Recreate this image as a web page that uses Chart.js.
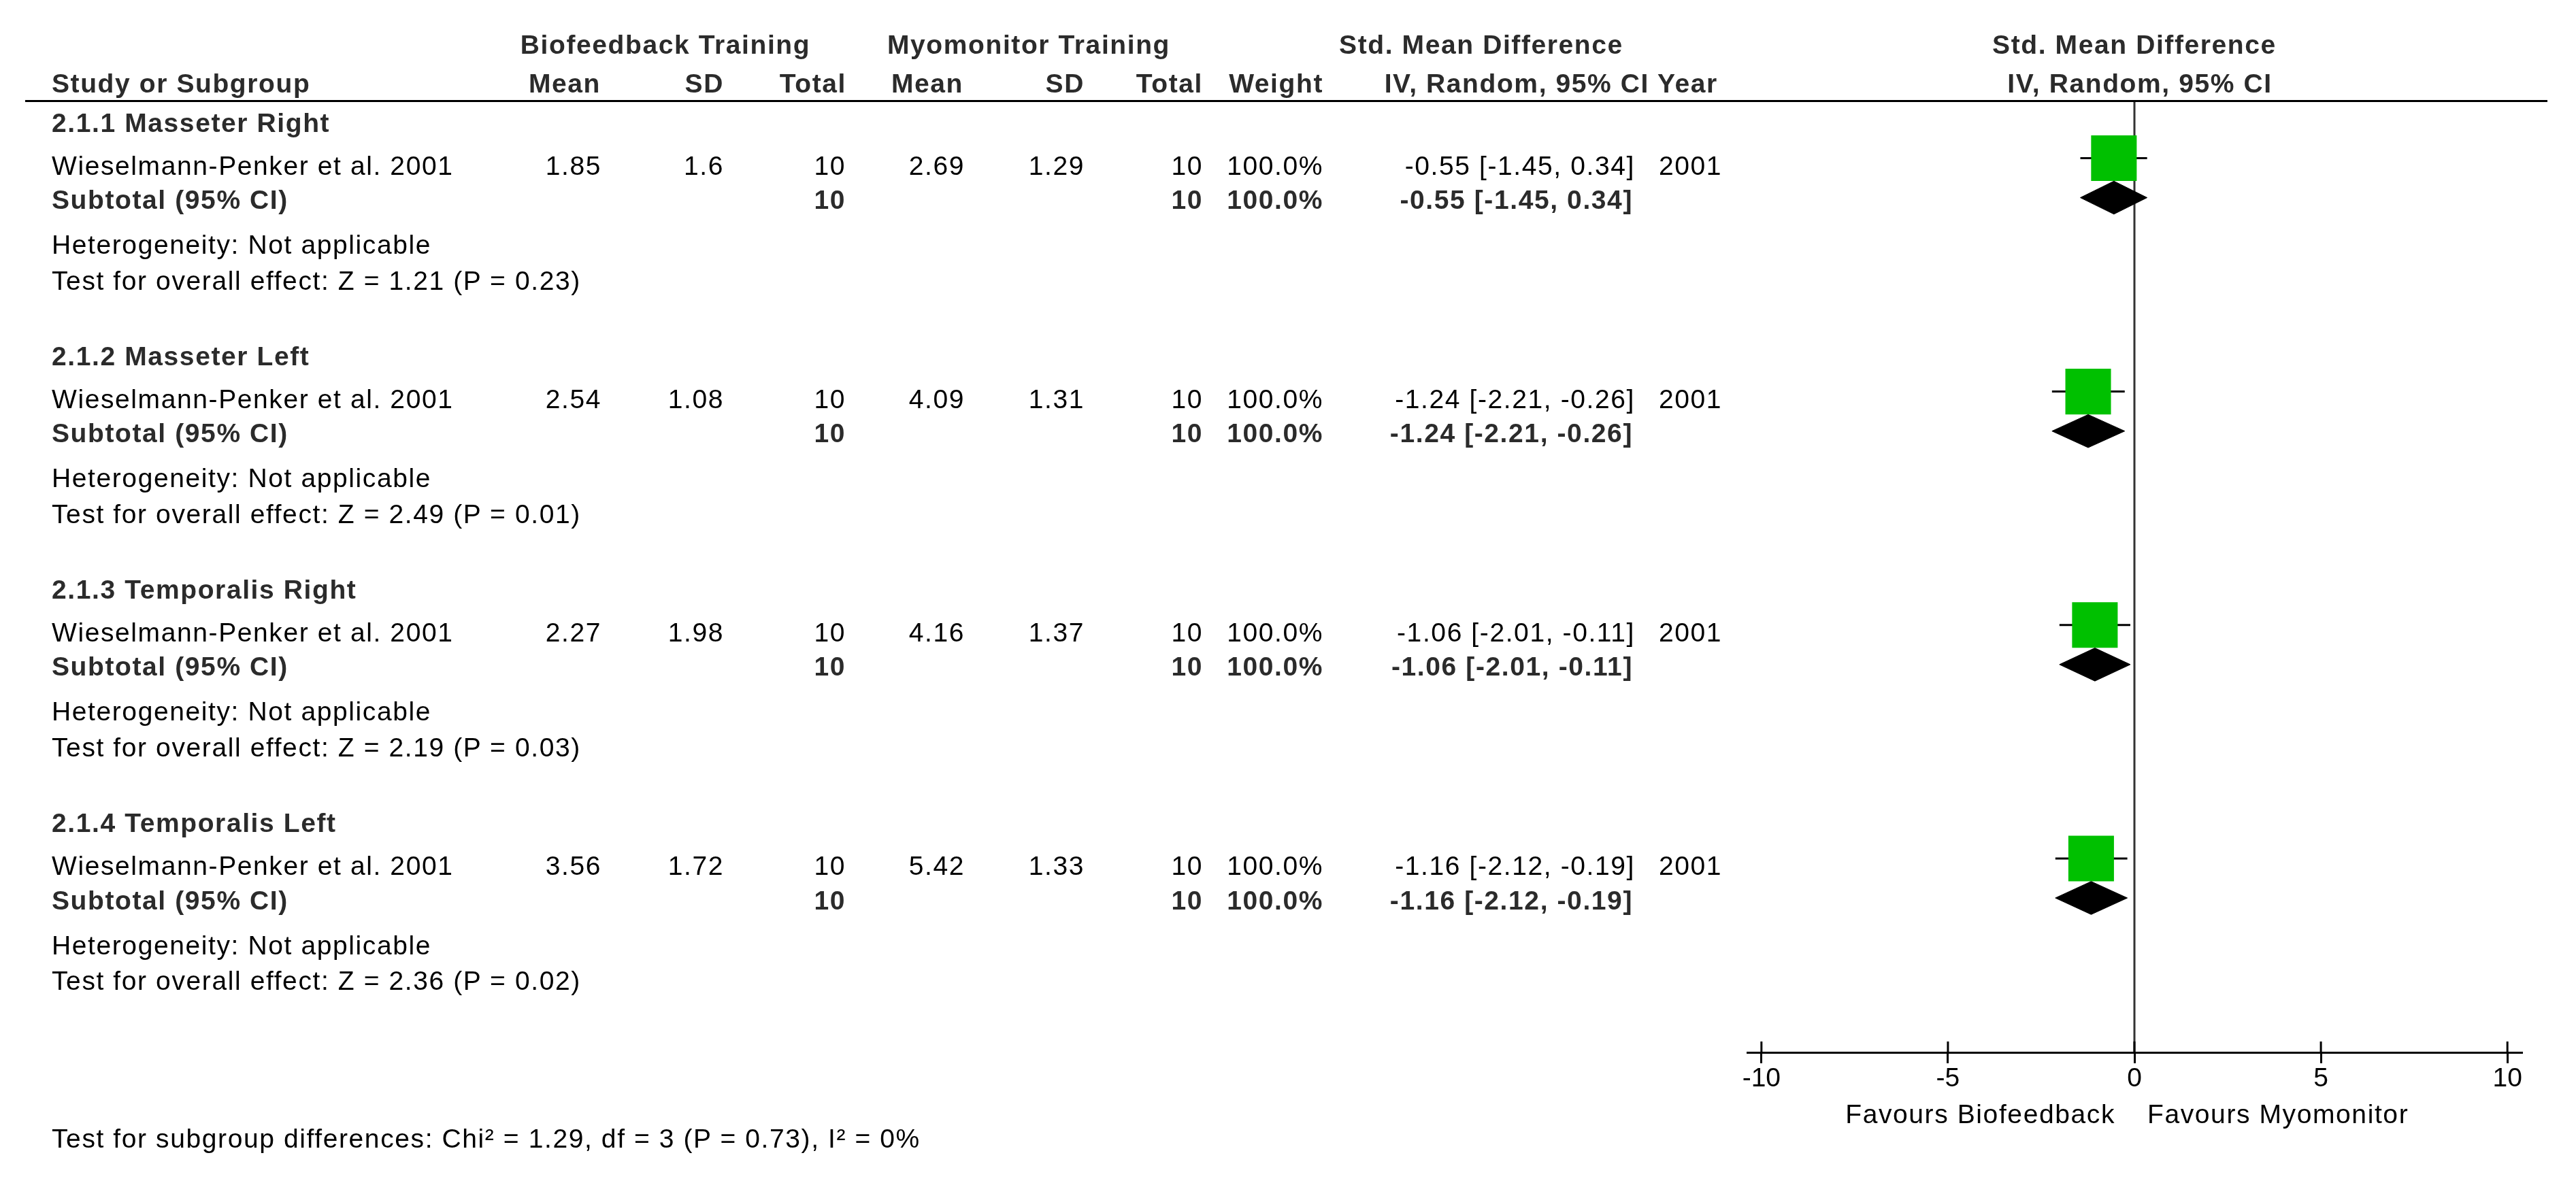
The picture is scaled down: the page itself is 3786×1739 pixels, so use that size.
<!DOCTYPE html>
<html>
<head>
<meta charset="utf-8">
<script src="https://cdn.jsdelivr.net/npm/chart.js@4.4.1/dist/chart.umd.min.js"></script>
<style>
  html, body { margin: 0; padding: 0; background: #fff; }
  #wrap { position: relative; width: 3786px; height: 1739px; overflow: hidden; background: #fff; }
  #forest { position: absolute; left: 0; top: 0; }
  .t { position: absolute; font-family: "Liberation Sans", Arial, sans-serif; font-size: 39px; line-height: 1;
       letter-spacing: 1.6px; white-space: nowrap; color: #000; }
  .b { font-weight: bold; color: #2b2b2b; }
  #rule { position: absolute; left: 37px; top: 147px; width: 3707px; height: 3px; background: #000; }
</style>
</head>
<body>
<div id="wrap">
  <canvas id="forest" width="3786" height="1739"></canvas>
  <div id="rule"></div>
</div>
<script>
// 亚组和研究数据
const subgroups = ['2.1.1 Masseter Right', '2.1.2 Masseter Left', '2.1.3 Temporalis Right', '2.1.4 Temporalis Left'];
const studies = ['Wieselmann-Penker et al. 2001', 'Wieselmann-Penker et al. 2001', 'Wieselmann-Penker et al. 2001', 'Wieselmann-Penker et al. 2001'];
const bioMean = ['1.85', '2.54', '2.27', '3.56'];
const bioSD = ['1.6', '1.08', '1.98', '1.72'];
const bioTotal = [10, 10, 10, 10];
const myoMean = ['2.69', '4.09', '4.16', '5.42'];
const myoSD = ['1.29', '1.31', '1.37', '1.33'];
const myoTotal = [10, 10, 10, 10];
const weights = [100, 100, 100, 100];
const smd = [-0.55, -1.24, -1.06, -1.16];
const ciLow = [-1.45, -2.21, -2.01, -2.12];
const ciHigh = [0.34, -0.26, -0.11, -0.19];
const years = [2001, 2001, 2001, 2001];
const zValues = ['1.21', '2.49', '2.19', '2.36'];
const pValues = ['0.23', '0.01', '0.03', '0.02'];
const xTicks = [-10, -5, 0, 5, 10];
const favourLabels = ['Favours Biofeedback', 'Favours Myomonitor'];
const subgroupTest = 'Test for subgroup differences: Chi\u00B2 = 1.29, df = 3 (P = 0.73), I\u00B2 = 0%';

// 版式常量
const GROUP_STEP = 6.5;   // 每个亚组占的行数
const Y_MAX = 26.5;
const MARK_ROW = 1.6;
const DIAMOND_ROW = 2.7;
const DIAMOND_HALF = 0.46;

function fmtCI(i) {
    return smd[i].toFixed(2) + ' [' + ciLow[i].toFixed(2) + ', ' + ciHigh[i].toFixed(2) + ']';
}

const datasets = [];

// 菱形（合并效应）
subgroups.forEach((g, i) => {
    const r = i * GROUP_STEP + DIAMOND_ROW;
    datasets.push({
        data: [
            {x: ciLow[i], y: r}, {x: smd[i], y: r - DIAMOND_HALF},
            {x: ciHigh[i], y: r}, {x: smd[i], y: r + DIAMOND_HALF}, {x: ciLow[i], y: r}
        ],
        borderColor: '#000', backgroundColor: '#000', borderWidth: 1,
        fill: 'shape', pointRadius: 0, tension: 0
    });
});

// 研究方块
datasets.push({
    data: smd.map((v, i) => ({x: v, y: i * GROUP_STEP + MARK_ROW})),
    showLine: false,
    pointStyle: 'rect',
    pointRadius: weights.map(w => 47.4 * Math.sqrt(w / 100)),
    pointBackgroundColor: '#00c000',
    pointBorderWidth: 0,
    pointBorderColor: '#00c000'
});

// 置信区间线
subgroups.forEach((g, i) => {
    const r = i * GROUP_STEP + MARK_ROW;
    datasets.push({
        data: [{x: ciLow[i], y: r}, {x: ciHigh[i], y: r}],
        borderColor: '#000', borderWidth: 3, pointRadius: 0, fill: false
    });
});

// 零线
datasets.push({
    data: [{x: 0, y: 0}, {x: 0, y: Y_MAX}],
    borderColor: '#333', borderWidth: 3, pointRadius: 0, fill: false
});

// 轴上方的刻度
const upperTicks = {
    id: 'upperTicks',
    afterDraw(chart) {
        const xs = chart.scales.x;
        const ctx = chart.ctx;
        const yb = chart.chartArea.bottom;
        ctx.save();
        ctx.strokeStyle = '#000';
        ctx.lineWidth = 3;
        xs.ticks.forEach(t => {
            const px = xs.getPixelForValue(t.value);
            ctx.beginPath();
            ctx.moveTo(px, yb - 16);
            ctx.lineTo(px, yb);
            ctx.stroke();
        });
        ctx.restore();
    }
};

const ctx = document.getElementById('forest').getContext('2d');
const forestChart = new Chart(ctx, {
    type: 'line',
    data: { datasets: datasets },
    options: {
        responsive: false,
        devicePixelRatio: 1,
        animation: false,
        events: [],
        layout: { padding: { left: 2568, right: 80, top: 148, bottom: 0 } },
        plugins: { legend: { display: false }, tooltip: { enabled: false } },
        scales: {
            x: {
                type: 'linear',
                min: -10.38,
                max: 10.38,
                afterBuildTicks: (scale) => { scale.ticks = xTicks.map(v => ({value: v})); },
                afterFit: (scale) => { scale.height = 192; },
                border: { display: true, color: '#000', width: 3 },
                grid: { drawOnChartArea: false, drawTicks: true, tickLength: 16, color: '#000', lineWidth: 3 },
                ticks: {
                    color: '#000',
                    padding: 4,
                    autoSkip: false,
                    maxRotation: 0,
                    font: { family: '"Liberation Sans", Arial, sans-serif', size: 39, lineHeight: 1 }
                }
            },
            y: {
                type: 'linear',
                reverse: true,
                min: 0,
                max: Y_MAX,
                display: false
            }
        }
    },
    plugins: [upperTicks]
});

// 表格文字
const wrap = document.getElementById('wrap');
function addText(str, x, y, align, bold) {
    const el = document.createElement('div');
    el.className = 't' + (bold ? ' b' : '');
    el.textContent = str;
    el.style.left = x + 'px';
    el.style.top = y + 'px';
    const tx = align === 'r' ? '-100%' : (align === 'c' ? '-50%' : '0');
    el.style.transform = 'translate(' + tx + ', -50%)';
    wrap.appendChild(el);
}

const ys = forestChart.scales.y;
const xs = forestChart.scales.x;
const zeroX = xs.getPixelForValue(0);

// 表头
addText('Biofeedback Training', 978, 65, 'c', true);
addText('Myomonitor Training', 1512, 65, 'c', true);
addText('Std. Mean Difference', 2177, 65, 'c', true);
addText('Std. Mean Difference', zeroX, 65, 'c', true);
addText('Study or Subgroup', 76, 122, 'l', true);
addText('Mean', 883, 122, 'r', true);
addText('SD', 1064, 122, 'r', true);
addText('Total', 1244, 122, 'r', true);
addText('Mean', 1416, 122, 'r', true);
addText('SD', 1594, 122, 'r', true);
addText('Total', 1768, 122, 'r', true);
addText('Weight', 1945, 122, 'r', true);
addText('IV, Random, 95% CI', 2424, 122, 'r', true);
addText('Year', 2436, 122, 'l', true);
addText('IV, Random, 95% CI', zeroX + 8, 122, 'c', true);

subgroups.forEach((g, i) => {
    const base = i * GROUP_STEP;
    const yHead = ys.getPixelForValue(base + 0.6);
    const yStudy = ys.getPixelForValue(base + 1.8);
    const ySub = ys.getPixelForValue(base + 2.75);
    const yHet = ys.getPixelForValue(base + 4.0);
    const yTest = ys.getPixelForValue(base + 5.0);

    addText(g, 76, yHead, 'l', true);

    addText(studies[i], 76, yStudy, 'l', false);
    addText(bioMean[i], 884, yStudy, 'r', false);
    addText(bioSD[i], 1064, yStudy, 'r', false);
    addText(String(bioTotal[i]), 1243, yStudy, 'r', false);
    addText(myoMean[i], 1418, yStudy, 'r', false);
    addText(myoSD[i], 1594, yStudy, 'r', false);
    addText(String(myoTotal[i]), 1768, yStudy, 'r', false);
    addText(weights[i].toFixed(1) + '%', 1945, yStudy, 'r', false);
    addText(fmtCI(i), 2403, yStudy, 'r', false);
    addText(String(years[i]), 2438, yStudy, 'l', false);

    addText('Subtotal (95% CI)', 76, ySub, 'l', true);
    addText(String(bioTotal[i]), 1243, ySub, 'r', true);
    addText(String(myoTotal[i]), 1768, ySub, 'r', true);
    addText(weights[i].toFixed(1) + '%', 1945, ySub, 'r', true);
    addText(fmtCI(i), 2400, ySub, 'r', true);

    addText('Heterogeneity: Not applicable', 76, yHet, 'l', false);
    addText('Test for overall effect: Z = ' + zValues[i] + ' (P = ' + pValues[i] + ')', 76, yTest, 'l', false);
});

// 轴下方的说明
const axisY = forestChart.chartArea.bottom;
addText(favourLabels[0], zeroX - 28, axisY + 90, 'r', false);
addText(favourLabels[1], zeroX + 19, axisY + 90, 'l', false);
addText(subgroupTest, 76, axisY + 126, 'l', false);
</script>
</body>
</html>
